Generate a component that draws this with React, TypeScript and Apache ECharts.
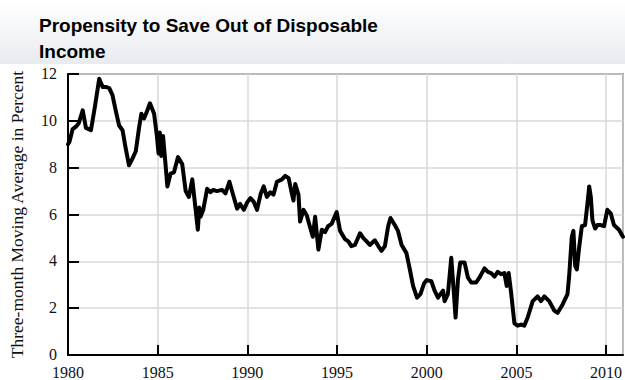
import React, { useEffect, useRef } from "react";
import * as echarts from "echarts";

const titleLines = ["Propensity to Save Out of Disposable", "Income"];
const yAxisTitle = "Three-month Moving Average in Percent";

const years: number[] = [
  1980.0, 1980.08, 1980.26, 1980.44, 1980.6, 1980.82, 1981.0, 1981.28, 1981.5, 1981.74,
  1981.93, 1982.1, 1982.3, 1982.48, 1982.67, 1982.85, 1983.04, 1983.2, 1983.4, 1983.6,
  1983.78, 1983.96, 1984.09, 1984.24, 1984.4, 1984.57, 1984.8, 1984.95, 1985.05, 1985.12,
  1985.2, 1985.3, 1985.42, 1985.54, 1985.72, 1985.91, 1986.13, 1986.37, 1986.56, 1986.74,
  1986.93, 1987.06, 1987.24, 1987.32, 1987.39, 1987.54, 1987.76, 1987.94, 1988.1, 1988.3,
  1988.59, 1988.78, 1989.0, 1989.24, 1989.43, 1989.6, 1989.8, 1989.98, 1990.17, 1990.35,
  1990.54, 1990.75, 1990.91, 1991.09, 1991.28, 1991.46, 1991.65, 1991.93, 1992.11, 1992.3,
  1992.48, 1992.57, 1992.67, 1992.85, 1992.94, 1993.13, 1993.32, 1993.5, 1993.65, 1993.78,
  1993.96, 1994.15, 1994.33, 1994.5, 1994.7, 1994.98, 1995.17, 1995.44, 1995.63, 1995.8,
  1996.0, 1996.28, 1996.46, 1996.65, 1996.83, 1997.11, 1997.3, 1997.48, 1997.67, 1997.85,
  1997.98, 1998.22, 1998.4, 1998.6, 1998.87, 1999.06, 1999.24, 1999.46, 1999.65, 1999.85,
  2000.0, 2000.26, 2000.44, 2000.63, 2000.76, 2000.91, 2001.0, 2001.18, 2001.37, 2001.5,
  2001.61, 2001.74, 2001.87, 2002.11, 2002.3, 2002.48, 2002.76, 2002.94, 2003.22, 2003.41,
  2003.59, 2003.78, 2003.96, 2004.15, 2004.33, 2004.46, 2004.57, 2004.7, 2004.89, 2005.07,
  2005.26, 2005.44, 2005.63, 2005.91, 2006.18, 2006.37, 2006.56, 2006.83, 2007.11, 2007.3,
  2007.57, 2007.85, 2007.94, 2008.09, 2008.18, 2008.28, 2008.37, 2008.5, 2008.65, 2008.83,
  2008.96, 2009.06, 2009.15, 2009.24, 2009.39, 2009.52, 2009.7, 2009.89, 2010.07, 2010.26,
  2010.44, 2010.72, 2010.94,
];

const savingRate: number[] = [
  9.0, 9.1, 9.65, 9.75, 9.9, 10.45, 9.7, 9.6, 10.6, 11.8,
  11.45, 11.45, 11.4, 11.1, 10.4, 9.8, 9.6, 8.9, 8.1, 8.4,
  8.7, 9.7, 10.3, 10.1, 10.4, 10.75, 10.3, 9.4, 8.6, 9.5,
  8.5, 9.35, 8.3, 7.2, 7.75, 7.8, 8.45, 8.15, 7.0, 6.75,
  7.5, 6.6, 5.35, 6.3, 5.9, 6.2, 7.1, 6.95, 7.05, 7.0,
  7.05, 6.9, 7.4, 6.75, 6.25, 6.45, 6.2, 6.5, 6.7, 6.55,
  6.2, 6.9, 7.2, 6.75, 6.95, 6.85, 7.4, 7.5, 7.65, 7.55,
  6.9, 6.6, 7.3, 6.85, 5.7, 6.2, 5.95, 5.45, 5.05, 5.9,
  4.5, 5.35, 5.25, 5.5, 5.6, 6.1, 5.3, 4.95, 4.85, 4.65,
  4.7, 5.2, 5.0, 4.85, 4.7, 4.9, 4.65, 4.45, 4.65, 5.5,
  5.85, 5.55, 5.3, 4.7, 4.35, 3.65, 2.95, 2.45, 2.6, 3.05,
  3.2, 3.15, 2.75, 2.45, 2.6, 2.75, 2.3, 2.6, 4.15, 2.8,
  1.6, 3.2, 3.95, 3.95, 3.3, 3.1, 3.1, 3.3, 3.7, 3.55,
  3.5, 3.35, 3.55, 3.45, 3.5, 2.95, 3.5, 2.7, 1.35, 1.25,
  1.3, 1.25, 1.6, 2.3, 2.5, 2.3, 2.5, 2.3, 1.9, 1.8,
  2.15, 2.6, 3.35, 5.05, 5.3, 3.8, 3.65, 4.6, 5.5, 5.55,
  6.45, 7.2, 6.75, 5.75, 5.4, 5.55, 5.55, 5.5, 6.2, 6.05,
  5.55, 5.35, 5.05,
];

const xMin = 1980;
const xMax = 2010.94;
const yMin = 0;
const yMax = 12;

export default function App() {
  const ref = useRef<HTMLDivElement>(null);

  useEffect(() => {
    if (!ref.current) return;
    const chart = echarts.init(ref.current, undefined, { renderer: "svg" });
    const serif = "Liberation Serif";
    chart.setOption({
      animation: false,
      backgroundColor: "#ffffff",
      graphic: [
        {
          type: "rect",
          left: 0,
          top: 0,
          z: -10,
          shape: { width: 625, height: 64 },
          style: {
            fill: new echarts.graphic.LinearGradient(0, 0, 0, 1, [
              { offset: 0, color: "#ffffff" },
              { offset: 1, color: "#e8ebef" },
            ]),
          },
        },
      ],
      title: {
        text: titleLines.join("\n"),
        left: 34,
        top: 7,
        textStyle: {
          fontFamily: "Liberation Sans",
          fontWeight: "bold",
          fontSize: 19,
          lineHeight: 26,
          color: "#000000",
        },
      },
      grid: {
        left: 66,
        right: 1,
        top: 74,
        bottom: 24,
        show: true,
        borderColor: "#333333",
        borderWidth: 1.5,
        backgroundColor: "transparent",
      },
      xAxis: {
        type: "value",
        min: xMin,
        max: xMax,
        interval: 5,
        axisLine: { show: true, lineStyle: { color: "#000", width: 2 } },
        axisTick: { show: true, inside: true, length: 10, lineStyle: { color: "#000", width: 2 } },
        splitLine: { show: true, lineStyle: { color: "#d9d9d9", width: 1.5 } },
        axisLabel: {
          fontFamily: serif,
          fontSize: 16,
          lineHeight: 14,
          color: "#111",
          margin: 10,
          showMaxLabel: false,
          formatter: (v: number) => (Math.abs(v % 5) < 1e-6 ? String(v) : ""),
        },
      },
      yAxis: {
        type: "value",
        min: yMin,
        max: yMax,
        interval: 2,
        name: yAxisTitle,
        nameLocation: "middle",
        nameGap: 42,
        nameTextStyle: { fontFamily: serif, fontSize: 17.5, color: "#111" },
        axisLine: { show: true, lineStyle: { color: "#000", width: 2 } },
        axisTick: { show: true, inside: true, length: 11, lineStyle: { color: "#000", width: 2 } },
        splitLine: { show: true, lineStyle: { color: "#d9d9d9", width: 1.5 } },
        axisLabel: {
          fontFamily: serif,
          fontSize: 16,
          lineHeight: 13,
          color: "#111",
          margin: 11,
          verticalAlign: "bottom",
          padding: [0, 0, -6, 0],
        },
      },
      series: [
        {
          type: "line",
          data: years.map((y, i) => [y, savingRate[i]]),
          showSymbol: false,
          symbol: "none",
          lineStyle: { color: "#000", width: 4, join: "round", cap: "round" },
          z: 5,
        },
      ],
    });
    return () => chart.dispose();
  }, []);

  return (
    <div
      ref={ref}
      style={{ position: "fixed", left: 0, top: 0, width: 625, height: 380 }}
    />
  );
}
